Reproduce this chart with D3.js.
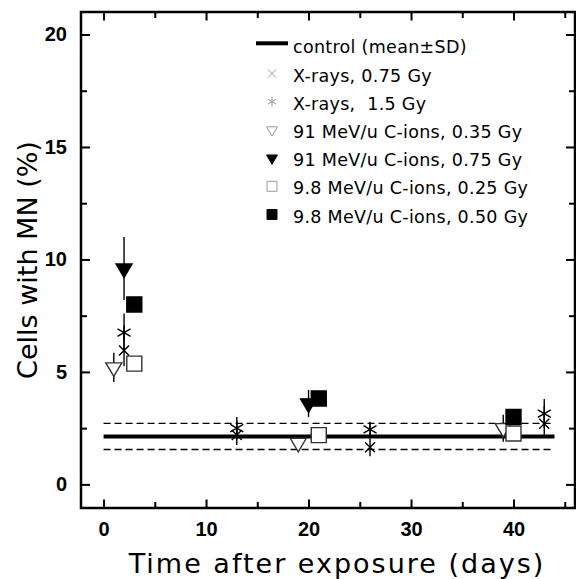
<!DOCTYPE html>
<html>
<head>
<meta charset="utf-8">
<script src="https://cdn.jsdelivr.net/npm/d3@7"></script>
<style>
  body { margin: 0; background: #fff; }
  svg { display: block; }
  .tick text { font-family: "Liberation Sans", Arial, sans-serif; font-weight: bold; font-size: 20px; fill: #000; }
  .title { font-family: "DejaVu Sans", sans-serif; fill: #000; }
  .legend text { font-family: "DejaVu Sans", sans-serif; font-size: 17.5px; letter-spacing: 0.3px; fill: #000; }
</style>
</head>
<body>
<svg width="576" height="579"></svg>
<script>
// control (mean ± SD), drawn from day 0 to day 44
const controlMean = 2.13;
const controlSD = 0.58;
const controlDays = [0, 44];

// X-rays
const xray075Days = [2, 13, 26, 43];
const xray075Vals = [5.95, 2.2, 1.65, 2.7];
const xray075Err = [0.7, 0.45, 0.4, 0.5];
const xray15Days = [2, 13, 26, 43];
const xray15Vals = [6.75, 2.5, 2.45, 3.15];
const xray15Err = [0.85, 0.5, 0.3, 0.65];

// 91 MeV/u carbon ions
const c91lowDays = [1, 19, 39];
const c91lowVals = [5.2, 1.85, 2.5];
const c91lowErr = [0.65, 0.1, 0.6];
const c91highDays = [2, 20];
const c91highVals = [9.6, 3.6];
const c91highErr = [1.4, 0.6];

// 9.8 MeV/u carbon ions
const c98lowDays = [3, 21, 40];
const c98lowVals = [5.37, 2.19, 2.26];
const c98highDays = [3, 21, 40];
const c98highVals = [8.0, 3.82, 3.0];

const xMajor = [0, 10, 20, 30, 40];
const xMinor = [5, 15, 25, 35, 45];
const yMajor = [0, 5, 10, 15, 20];
const yMinor = [2.5, 7.5, 12.5, 17.5];

const legendLabels = [
  "control (mean\u00b1SD)",
  "X-rays, 0.75 Gy",
  "X-rays,  1.5 Gy",
  "91 MeV/u C-ions, 0.35 Gy",
  "91 MeV/u C-ions, 0.75 Gy",
  "9.8 MeV/u C-ions, 0.25 Gy",
  "9.8 MeV/u C-ions, 0.50 Gy"
];

const series = [
  { key: "cross", days: xray075Days, vals: xray075Vals, err: xray075Err },
  { key: "star", days: xray15Days, vals: xray15Vals, err: xray15Err },
  { key: "triOpen", days: c91lowDays, vals: c91lowVals, err: c91lowErr },
  { key: "triFill", days: c91highDays, vals: c91highVals, err: c91highErr },
  { key: "sqOpen", days: c98lowDays, vals: c98lowVals, err: null },
  { key: "sqFill", days: c98highDays, vals: c98highVals, err: null }
];

const svg = d3.select("svg");
const pl = 81, pr = 575, pt = 12, pb = 508;

const x = d3.scaleLinear().domain([-2.2, 46]).range([pl, pr]);
const y = d3.scaleLinear().domain([-1.05, 21]).range([pb, pt]);

// marker shapes, centred on the point
function shape(key, s) {
  const p = d3.path();
  if (key === "cross") {
    const r = s / 2;
    p.moveTo(-r, -r); p.lineTo(r, r); p.moveTo(-r, r); p.lineTo(r, -r);
  } else if (key === "star") {
    const r = s / 2;
    p.moveTo(0, -r); p.lineTo(0, r);
    for (const a of [Math.PI / 6, -Math.PI / 6]) {
      p.moveTo(-r * Math.cos(a), -r * Math.sin(a));
      p.lineTo(r * Math.cos(a), r * Math.sin(a));
    }
  } else if (key === "triOpen" || key === "triFill") {
    const h = s * 0.85;
    p.moveTo(-s / 2, -h / 3); p.lineTo(s / 2, -h / 3); p.lineTo(0, 2 * h / 3); p.closePath();
  } else {
    p.rect(-s / 2, -s / 2, s, s);
  }
  return p.toString();
}

function styleMarker(sel, key, legend) {
  const filled = key === "triFill" || key === "sqFill";
  const open = key === "triOpen" || key === "sqOpen";
  sel.attr("fill", filled ? "#000" : open ? "#fff" : "none")
    .attr("stroke", filled ? "#000" : legend ? "#999" : (open ? "#333" : "#000"))
    .attr("stroke-width", legend ? 1 : 1.4);
}

// control band
const g = svg.append("g");
g.append("line")
  .attr("x1", x(controlDays[0])).attr("x2", x(controlDays[1]))
  .attr("y1", y(controlMean)).attr("y2", y(controlMean))
  .attr("stroke", "#000").attr("stroke-width", 4);
[controlMean + controlSD, controlMean - controlSD].forEach(v => {
  g.append("line")
    .attr("x1", x(controlDays[0])).attr("x2", x(controlDays[1]))
    .attr("y1", y(v)).attr("y2", y(v))
    .attr("stroke", "#000").attr("stroke-width", 1.3)
    .attr("stroke-dasharray", "7,4");
});

// error bars
series.filter(s => s.err).forEach(s => {
  g.selectAll(null)
    .data(s.days.map((d, i) => [d, s.vals[i], s.err[i]]))
    .enter().append("line")
    .attr("x1", d => x(d[0])).attr("x2", d => x(d[0]))
    .attr("y1", d => y(d[1] + d[2])).attr("y2", d => y(d[1] - d[2]))
    .attr("stroke", "#000").attr("stroke-width", 1.4);
});

// markers
const sizes = { cross: 10, star: 15, triOpen: 16, triFill: 16, sqOpen: 15, sqFill: 15 };
series.forEach(s => {
  const m = g.selectAll(null)
    .data(s.days.map((d, i) => [d, s.vals[i]]))
    .enter().append("path")
    .attr("d", shape(s.key, sizes[s.key]))
    .attr("transform", d => `translate(${x(d[0])},${y(d[1])})`);
  styleMarker(m, s.key, false);
});

// axes: ticks inward on all four sides
function addAxis(axisFn, scale, major, minor, pos, labels, majLen, minLen) {
  const a = svg.append("g").attr("transform", pos);
  a.call(axisFn(scale).tickValues(major).tickSize(-majLen).tickPadding(14)
    .tickFormat(labels ? d3.format("d") : ""));
  const b = svg.append("g").attr("transform", pos);
  b.call(axisFn(scale).tickValues(minor).tickSize(-minLen).tickFormat(""));
  [a, b].forEach(s => {
    s.select(".domain").remove();
    s.selectAll(".tick line").attr("stroke", "#000").attr("stroke-width", 2);
  });
}
addAxis(d3.axisBottom, x, xMajor, xMinor, `translate(0,${pb})`, true, 8.5, 6);
addAxis(d3.axisTop, x, xMajor, xMinor, `translate(0,${pt})`, false, 8.5, 6);
addAxis(d3.axisLeft, y, yMajor, yMinor, `translate(${pl},0)`, true, 9, 6);
addAxis(d3.axisRight, y, yMajor, yMinor, `translate(${pr},0)`, false, 9, 6);

svg.append("rect")
  .attr("x", pl).attr("y", pt)
  .attr("width", pr - pl).attr("height", pb - pt)
  .attr("fill", "none").attr("stroke", "#000").attr("stroke-width", 2.5);

// titles
svg.append("text").attr("class", "title")
  .attr("x", 337).attr("y", 573)
  .attr("text-anchor", "middle").attr("font-size", 27)
  .attr("letter-spacing", 2)
  .text("Time after exposure (days)");
svg.append("text").attr("class", "title")
  .attr("transform", `translate(37,${(pt + pb) / 2}) rotate(-90)`)
  .attr("text-anchor", "middle").attr("font-size", 27)
  .text("Cells with MN (%)");

// legend
const leg = svg.append("g").attr("class", "legend");
const rowY = i => 53.3 + i * 28.2;
leg.selectAll("text").data(legendLabels).enter().append("text")
  .attr("x", 293).attr("y", (d, i) => rowY(i))
  .style("white-space", "pre")
  .text(d => d);
leg.append("line")
  .attr("x1", 256).attr("x2", 288)
  .attr("y1", rowY(0) - 10).attr("y2", rowY(0) - 10)
  .attr("stroke", "#000").attr("stroke-width", 4);
const legSizes = { cross: 8, star: 10, triOpen: 11, triFill: 11, sqOpen: 10, sqFill: 10 };
series.forEach((s, i) => {
  const m = leg.append("path")
    .attr("d", shape(s.key, legSizes[s.key]))
    .attr("transform", `translate(272,${rowY(i + 1) - 8})`);
  styleMarker(m, s.key, true);
});
</script>
</body>
</html>
